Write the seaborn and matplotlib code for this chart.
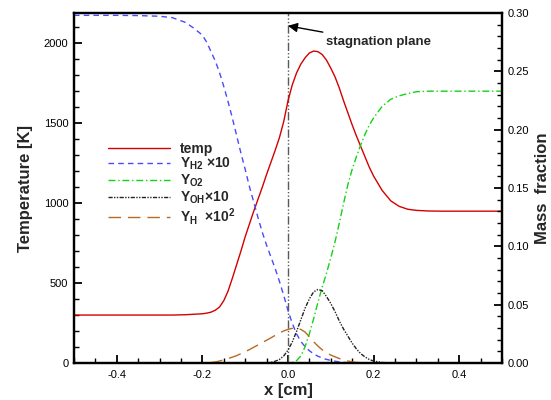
import matplotlib
matplotlib.use("Agg")
import matplotlib.pyplot as plt
from matplotlib.ticker import MultipleLocator, FormatStrFormatter
import seaborn as sns

sns.set_theme(style="ticks")
plt.rcParams["font.family"] = ["Liberation Sans", "DejaVu Sans"]
plt.rcParams["mathtext.fontset"] = "custom"
plt.rcParams["mathtext.rm"] = "Liberation Sans"
plt.rcParams["mathtext.bf"] = "Liberation Sans:bold"
plt.rcParams["mathtext.it"] = "Liberation Sans:italic"
plt.rcParams["axes.edgecolor"] = "black"
plt.rcParams["xtick.color"] = "black"
plt.rcParams["ytick.color"] = "black"

# Axial position across the counterflow flame [cm]
x_cm = [-0.50, -0.45, -0.40, -0.35, -0.30, -0.27, -0.24, -0.22,
        -0.20, -0.19, -0.18, -0.17, -0.16, -0.15, -0.14, -0.13, -0.12, -0.11,
        -0.10, -0.09, -0.08, -0.07, -0.06, -0.05, -0.04, -0.03, -0.02, -0.01,
        0.00, 0.01, 0.02, 0.03, 0.04, 0.05, 0.06, 0.07, 0.08, 0.09,
        0.10, 0.11, 0.12, 0.13, 0.14, 0.15, 0.16, 0.17, 0.18, 0.19,
        0.20, 0.22, 0.24, 0.26, 0.28, 0.30, 0.33, 0.36, 0.40, 0.45, 0.50]

# Temperature [K]
temp_K = [300, 300, 300, 300, 300, 300, 302, 305,
          308, 312, 318, 330, 350, 390, 450, 530, 615, 700,
          790, 870, 950, 1025, 1100, 1180, 1255, 1330, 1410, 1510,
          1640, 1740, 1815, 1870, 1910, 1940, 1952, 1948, 1930, 1895,
          1845, 1790, 1720, 1640, 1565, 1490, 1420, 1355, 1290, 1225,
          1170, 1080, 1015, 980, 962, 955, 951, 950, 950, 950, 950]

# H2 mass fraction x 10
y_h2_x10 = [0.298, 0.298, 0.298, 0.2978, 0.2972, 0.296, 0.292, 0.287,
            0.281, 0.275, 0.267, 0.259, 0.249, 0.237, 0.224, 0.210, 0.195, 0.180,
            0.166, 0.151, 0.138, 0.1245, 0.112, 0.101, 0.091, 0.081, 0.070, 0.058,
            0.045, 0.034, 0.025, 0.0185, 0.014, 0.0105, 0.0078, 0.0058, 0.0043, 0.0031,
            0.0022, 0.0015, 0.0010, 0.0006, 0.0003, 0.0001, 0, 0, 0, 0,
            0, 0, 0, 0, 0, 0, 0, 0, 0, 0, 0]

# O2 mass fraction
y_o2 = [0, 0, 0, 0, 0, 0, 0, 0,
        0, 0, 0, 0, 0, 0, 0, 0, 0, 0,
        0, 0, 0, 0, 0, 0, 0, 0, 0, 0,
        0.0, 0.0005, 0.002, 0.006, 0.014, 0.025, 0.038, 0.052, 0.065, 0.077,
        0.090, 0.104, 0.120, 0.137, 0.153, 0.166, 0.177, 0.187, 0.196, 0.204,
        0.210, 0.220, 0.226, 0.229, 0.231, 0.2325, 0.233, 0.233, 0.233, 0.233, 0.233]

# OH mass fraction x 10
y_oh_x10 = [0, 0, 0, 0, 0, 0, 0, 0,
            0, 0, 0, 0, 0, 0, 0, 0, 0, 0,
            0, 0, 0, 0, 0, 0.0002, 0.0005, 0.0015, 0.003, 0.006,
            0.011, 0.018, 0.027, 0.037, 0.047, 0.055, 0.061, 0.063, 0.062, 0.057,
            0.051, 0.044, 0.036, 0.029, 0.023, 0.017, 0.012, 0.008, 0.0052, 0.003,
            0.0017, 0.0004, 0.0001, 0, 0, 0, 0, 0, 0, 0, 0]

# H mass fraction x 100
y_h_x100 = [0, 0, 0, 0, 0, 0, 0, 0,
            0, 0, 0.0003, 0.0009, 0.0017, 0.0027, 0.0038, 0.0050, 0.0063, 0.0080,
            0.0097, 0.0115, 0.0135, 0.0155, 0.0175, 0.0195, 0.0215, 0.0237, 0.0257, 0.0275,
            0.0288, 0.0297, 0.0298, 0.0288, 0.0265, 0.0225, 0.0182, 0.0145, 0.0113, 0.0088,
            0.0068, 0.0053, 0.0038, 0.0026, 0.0017, 0.0010, 0.0005, 0.0002, 0, 0,
            0, 0, 0, 0, 0, 0, 0, 0, 0, 0, 0]

legend_labels = [
    "temp",
    r"$\mathbf{Y_{H2}}$ ×10",
    r"$\mathbf{Y_{O2}}$",
    r"$\mathbf{Y_{OH}}$×10",
    r"$\mathbf{Y_{H}}$  ×10$^{\mathbf{2}}$",
]

fig = plt.figure(figsize=(5.51, 4.0), dpi=100)
ax = fig.add_axes([0.1343, 0.0925, 0.7767, 0.875])
ax2 = ax.twinx()

# stagnation plane marker
ax.axvline(0.0, color="#5a5a5a", lw=1.0, linestyle=(0, (6, 1.5, 1, 1.5, 1, 1.5)), zorder=1)

sns.lineplot(x=x_cm, y=temp_K, ax=ax, color="#d40000", lw=1.0)
h_temp = ax.lines[-1]

sns.lineplot(x=x_cm, y=y_h2_x10, ax=ax2, color="#4a4aff", lw=1.0, linestyle=(0, (4, 3)))
h_h2 = ax2.lines[-1]
sns.lineplot(x=x_cm, y=y_o2, ax=ax2, color="#14d214", lw=1.0, linestyle=(0, (5, 2, 1, 2)))
h_o2 = ax2.lines[-1]
sns.lineplot(x=x_cm, y=y_oh_x10, ax=ax2, color="#222222", lw=1.0, linestyle=(0, (3, 1, 1, 1, 1, 1)))
h_oh = ax2.lines[-1]
sns.lineplot(x=x_cm, y=y_h_x100, ax=ax2, color="#b86a20", lw=1.0, linestyle=(0, (9, 5)))
h_h = ax2.lines[-1]

ax.set_xlim(-0.5, 0.5)
ax.set_ylim(0, 2190)
ax2.set_ylim(0, 0.30)

ax.xaxis.set_major_locator(MultipleLocator(0.2))
ax.xaxis.set_minor_locator(MultipleLocator(0.05))
ax.xaxis.set_major_formatter(FormatStrFormatter("%.1f"))
ax.yaxis.set_major_locator(MultipleLocator(500))
ax.yaxis.set_minor_locator(MultipleLocator(100))
ax2.yaxis.set_major_locator(MultipleLocator(0.05))
ax2.yaxis.set_minor_locator(MultipleLocator(0.01))
ax2.yaxis.set_major_formatter(FormatStrFormatter("%.2f"))

ax.tick_params(axis="both", which="both", direction="in", top=False, right=False, labelsize=8)
ax.tick_params(axis="both", which="major", length=6, width=1.3)
ax.tick_params(axis="both", which="minor", length=3.5, width=1.0)
ax.tick_params(axis="x", which="both", pad=5)
ax.tick_params(axis="y", which="both", pad=4)
ax2.tick_params(axis="y", which="both", direction="in", left=False, right=True, labelsize=8, pad=4)
ax2.tick_params(axis="y", which="major", length=6, width=1.3)
ax2.tick_params(axis="y", which="minor", length=3.5, width=1.0)

for a in (ax, ax2):
    for s in a.spines.values():
        s.set_linewidth(1.6)
        s.set_color("black")

ax.set_xlabel("x [cm]", fontsize=12, fontweight="bold", labelpad=2)
ax.set_ylabel("Temperature [K]", fontsize=12, fontweight="bold", labelpad=8)
ax2.set_ylabel("Mass  fraction", fontsize=12, fontweight="bold", rotation=90, labelpad=4)

ax2.legend([h_temp, h_h2, h_o2, h_oh, h_h], legend_labels,
           loc="upper left", bbox_to_anchor=(0.079, 0.632), frameon=False,
           handlelength=4.45, handletextpad=0.72, labelspacing=0.02,
           borderaxespad=0, borderpad=0,
           prop={"family": "Liberation Sans", "weight": "bold", "size": 10})

ax2.annotate("stagnation plane", xy=(0.0, 0.289), xytext=(0.088, 0.275),
             ha="left", va="center", fontsize=9.5, fontweight="bold",
             arrowprops=dict(arrowstyle="-|>", color="black", lw=1.0,
                             mutation_scale=14, shrinkA=3, shrinkB=0))

fig.savefig("out.png", dpi=100)
